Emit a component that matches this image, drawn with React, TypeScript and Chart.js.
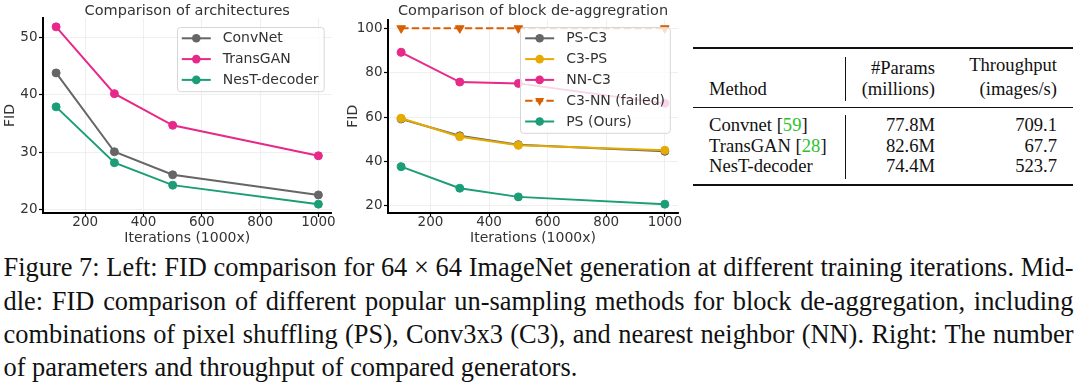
import React, { useEffect, useRef } from 'react';
import { Chart, registerables } from 'chart.js';

Chart.register(...registerables);

// ---------- data ----------
const iterations = [100, 300, 500, 1000];
const xTickValues = [200, 400, 600, 800, 1000];
const archYTicks = [20, 30, 40, 50];
const deaggYTicks = [20, 40, 60, 80, 100];

const archLabels = ['ConvNet', 'TransGAN', 'NesT-decoder'];
const convNetFid = [43.8, 30.1, 26.1, 22.6];
const transGanFid = [51.8, 40.2, 34.7, 29.4];
const nestDecoderFid = [37.9, 28.2, 24.3, 21.0];

const deaggLabels = ['PS-C3', 'C3-PS', 'NN-C3', 'C3-NN (failed)', 'PS (Ours)'];
const psC3Fid = [59.2, 51.6, 47.6, 44.6];
const c3PsFid = [59.5, 51.2, 47.3, 45.1];
const nnC3Fid = [89.2, 75.8, 75.2, 66.2];
const c3NnFid = [100, 100, 100, 100];
const psOursFid = [37.7, 28.0, 24.1, 20.8];

const tableMethods = ['Convnet', 'TransGAN', 'NesT-decoder'];
const tableRefs = ['59', '28', ''];
const tableParams = ['77.8M', '82.6M', '74.4M'];
const tableThroughput = ['709.1', '67.7', '523.7'];

const captionLines = [
  'Figure 7: Left: FID comparison for 64 \u00d7 64 ImageNet generation at different training iterations. Mid-',
  'dle: FID comparison of different popular un-sampling methods for block de-aggregation, including',
  'combinations of pixel shuffling (PS), Conv3x3 (C3), and nearest neighbor (NN). Right: The number',
  'of parameters and throughput of compared generators.',
];

// ---------- styles ----------
const GRAY = '#666666';
const PINK = '#e7298a';
const GREEN = '#1b9e77';
const ORANGE = '#d95f02';
const YELLOW = '#e6ab02';
const TEXT = '#333333';
const FONT = '"DejaVu Sans", sans-serif';

Chart.defaults.font.family = FONT;

type Series = { label: string; values: number[]; color: string; dashed?: boolean; triangle?: boolean };

function paddedRange(values: number[]) {
  const min = Math.min(...values);
  const max = Math.max(...values);
  const m = (max - min) * 0.05;
  return { min: min - m, max: max + m };
}

const legendPlugin = {
  id: 'boxLegend',
  afterDatasetsDraw(chart: any) {
    const { ctx, chartArea } = chart;
    const ds = chart.data.datasets;
    const extra = chart.options.plugins.boxLegend || {};
    ctx.save();
    ctx.font = `14px ${FONT}`;
    const textW = Math.max(...ds.map((d: any) => ctx.measureText(d.label).width));
    const rowH = 20.8;
    const w = 46 + textW + 5;
    const h = 22.6 + (ds.length - 1) * rowH;
    const right = chartArea.right - 8;
    const left = right - w;
    const top = extra.top ?? chartArea.top + 9;
    ctx.beginPath();
    ctx.roundRect(Math.round(left) + 0.5, Math.round(top) + 0.5, w, h, 3);
    ctx.fillStyle = 'rgba(255,255,255,0.8)';
    ctx.fill();
    ctx.strokeStyle = '#d6d6d6';
    ctx.lineWidth = 1;
    ctx.stroke();
    ds.forEach((d: any, i: number) => {
      const cy = top + 11.3 + i * rowH;
      ctx.strokeStyle = d.borderColor;
      ctx.lineWidth = 2;
      ctx.setLineDash(d.borderDash || []);
      ctx.beginPath();
      ctx.moveTo(left + 5, cy);
      ctx.lineTo(left + 34, cy);
      ctx.stroke();
      ctx.setLineDash([]);
      const cx = left + 19.5;
      ctx.fillStyle = d.borderColor;
      ctx.beginPath();
      if (d.pointStyle === 'triangle') {
        const r = 5.2;
        ctx.moveTo(cx, cy + r);
        ctx.lineTo(cx - r * 0.866, cy - r / 2);
        ctx.lineTo(cx + r * 0.866, cy - r / 2);
        ctx.closePath();
      } else {
        ctx.arc(cx, cy, 4.3, 0, Math.PI * 2);
      }
      ctx.fill();
      ctx.fillStyle = TEXT;
      ctx.textBaseline = 'middle';
      ctx.textAlign = 'left';
      ctx.fillText(d.label, left + 46, cy + 0.5);
    });
    ctx.restore();
  },
};

const areaTitlePlugin = {
  id: 'areaTitle',
  afterDraw(chart: any) {
    const opts = chart.options.plugins.areaTitle;
    if (!opts) return;
    const { ctx, chartArea } = chart;
    ctx.save();
    ctx.font = `14.5px ${FONT}`;
    ctx.fillStyle = TEXT;
    ctx.textAlign = 'center';
    ctx.textBaseline = 'middle';
    ctx.fillText(opts.text, (chartArea.left + chartArea.right) / 2, 11);
    ctx.restore();
  },
};

function makeConfig(
  series: Series[],
  yTicks: number[],
  title: string,
  geo: { yWidth: number; xHeight: number; padRight: number; padTop: number; yTitlePad: number }
): any {
  const xr = paddedRange(iterations);
  const yr = paddedRange(series.flatMap((s) => s.values));
  const n = series.length;
  return {
    type: 'line',
    data: {
      datasets: series.map((s, i) => ({
        label: s.label,
        data: iterations.map((x, j) => ({ x, y: s.values[j] })),
        borderColor: s.color,
        backgroundColor: s.color,
        pointBackgroundColor: s.color,
        pointBorderColor: s.color,
        borderWidth: 2,
        borderDash: s.dashed ? [7.4, 3.2] : [],
        pointStyle: s.triangle ? 'triangle' : 'circle',
        pointRotation: s.triangle ? 180 : 0,
        pointRadius: s.triangle ? 5 : 4,
        pointBorderWidth: 1,
        tension: 0,
        fill: false,
        order: n - i,
      })),
    },
    options: {
      responsive: false,
      animation: false,
      devicePixelRatio: 1,
      events: [],
      layout: { padding: { left: 0, right: geo.padRight, top: geo.padTop, bottom: 0 } },
      plugins: {
        legend: { display: false },
        tooltip: { enabled: false },
        title: { display: false },
        areaTitle: { text: title },
      },
      scales: {
        x: {
          type: 'linear',
          min: xr.min,
          max: xr.max,
          afterBuildTicks: (s: any) => {
            s.ticks = xTickValues.map((value) => ({ value }));
          },
          afterFit: (s: any) => {
            s.height = geo.xHeight;
          },
          grid: { color: '#ebebeb', lineWidth: 0.8, tickColor: '#000', tickLength: 4, tickWidth: 1.2 },
          border: { color: '#000', width: 2 },
          ticks: {
            color: TEXT,
            font: { size: 13.5, lineHeight: 1 },
            padding: -1,
            maxRotation: 0,
            autoSkip: false,
            callback: (v: any) => String(v),
          },
          title: {
            display: true,
            text: 'Iterations (1000x)',
            color: TEXT,
            font: { size: 14, lineHeight: 1 },
            padding: { top: 0, bottom: 4.7 },
          },
        },
        y: {
          type: 'linear',
          min: yr.min,
          max: yr.max,
          afterBuildTicks: (s: any) => {
            s.ticks = yTicks.map((value) => ({ value }));
          },
          afterFit: (s: any) => {
            s.width = geo.yWidth;
          },
          grid: { color: '#ebebeb', lineWidth: 0.8, tickColor: '#000', tickLength: 4, tickWidth: 1.2 },
          border: { color: '#000', width: 2 },
          ticks: {
            color: TEXT,
            font: { size: 13.5, lineHeight: 1 },
            padding: 1.5,
            autoSkip: false,
            callback: (v: any) => String(v),
          },
          title: {
            display: true,
            text: 'FID',
            color: TEXT,
            font: { size: 14, lineHeight: 1 },
            padding: { top: geo.yTitlePad, bottom: 0 },
          },
        },
      },
    },
    plugins: [legendPlugin, areaTitlePlugin],
  };
}

const archSeries: Series[] = [
  { label: archLabels[0], values: convNetFid, color: GRAY },
  { label: archLabels[1], values: transGanFid, color: PINK },
  { label: archLabels[2], values: nestDecoderFid, color: GREEN },
];

const deaggSeries: Series[] = [
  { label: deaggLabels[0], values: psC3Fid, color: GRAY },
  { label: deaggLabels[1], values: c3PsFid, color: YELLOW },
  { label: deaggLabels[2], values: nnC3Fid, color: PINK },
  { label: deaggLabels[3], values: c3NnFid, color: ORANGE, dashed: true, triangle: true },
  { label: deaggLabels[4], values: psOursFid, color: GREEN },
];

const serif = '"Liberation Serif", "Times New Roman", serif';

export default function App() {
  const leftRef = useRef<HTMLCanvasElement>(null);
  const midRef = useRef<HTMLCanvasElement>(null);

  useEffect(() => {
    const c1 = new Chart(
      leftRef.current!,
      makeConfig(archSeries, archYTicks, 'Comparison of architectures', {
        yWidth: 43,
        xHeight: 37,
        padRight: 13.5,
        padTop: 18,
        yTitlePad: 3.8,
      })
    );
    const c2cfg = makeConfig(deaggSeries, deaggYTicks, 'Comparison of block de-aggregration', {
      yWidth: 48,
      xHeight: 37,
      padRight: 7,
      padTop: 19.5,
      yTitlePad: 6.3,
    });
    c2cfg.options.plugins.boxLegend = { top: 27 };
    const c2 = new Chart(midRef.current!, c2cfg);
    return () => {
      c1.destroy();
      c2.destroy();
    };
  }, []);

  const cell = (text: React.ReactNode, style: React.CSSProperties) => (
    <div
      style={{
        position: 'absolute',
        fontFamily: serif,
        fontSize: 18.6,
        lineHeight: 1,
        color: '#111',
        whiteSpace: 'nowrap',
        ...style,
      }}
    >
      {text}
    </div>
  );

  const rowTops = [116.1, 136.5, 157.0];

  return (
    <div
      style={{
        position: 'absolute',
        left: 0,
        top: 0,
        width: 1080,
        height: 382,
        background: '#fff',
        overflow: 'hidden',
      }}
    >
      <canvas ref={leftRef} width={345} height={250} style={{ position: 'absolute', left: 0, top: 0, display: 'block' }} />
      <canvas ref={midRef} width={345} height={250} style={{ position: 'absolute', left: 340, top: 0, display: 'block' }} />

      {/* table rules */}
      <div style={{ position: 'absolute', left: 693, top: 47, width: 380, height: 2, background: '#111' }} />
      <div style={{ position: 'absolute', left: 693, top: 106.5, width: 380, height: 1.5, background: '#111' }} />
      <div style={{ position: 'absolute', left: 693, top: 184, width: 380, height: 2, background: '#111' }} />
      <div style={{ position: 'absolute', left: 845, top: 57, width: 1, height: 44, background: '#111' }} />
      <div style={{ position: 'absolute', left: 845, top: 115, width: 1, height: 64, background: '#111' }} />

      {cell('Method', { left: 709, top: 80.1 })}
      {cell('#Params', { right: 145, top: 58.7 })}
      {cell('(millions)', { right: 145, top: 80 })}
      {cell('Throughput', { right: 23, top: 56.1 })}
      {cell('(images/s)', { right: 23, top: 80 })}
      {tableMethods.map((m, i) => (
        <React.Fragment key={m}>
          {cell(
            <>
              {m}
              {tableRefs[i] ? (
                <>
                  {' ['}
                  <span style={{ color: '#2fbf2f' }}>{tableRefs[i]}</span>
                  {']'}
                </>
              ) : null}
            </>,
            { left: 709, top: rowTops[i] }
          )}
          {cell(tableParams[i], { right: 145, top: rowTops[i] })}
          {cell(tableThroughput[i], { right: 23, top: rowTops[i] })}
        </React.Fragment>
      ))}

      {/* caption */}
      <div
        style={{
          position: 'absolute',
          left: 3.5,
          top: 251.4,
          width: 1070,
          fontFamily: serif,
          fontSize: 26.4,
          lineHeight: '33.33px',
          color: '#111',
        }}
      >
        {captionLines.map((line, i) => (
          <div
            key={i}
            style={{
              whiteSpace: 'nowrap',
              textAlign: i < captionLines.length - 1 ? 'justify' : 'left',
              textAlignLast: i < captionLines.length - 1 ? 'justify' : 'left',
            }}
          >
            {line}
          </div>
        ))}
      </div>
    </div>
  );
}
